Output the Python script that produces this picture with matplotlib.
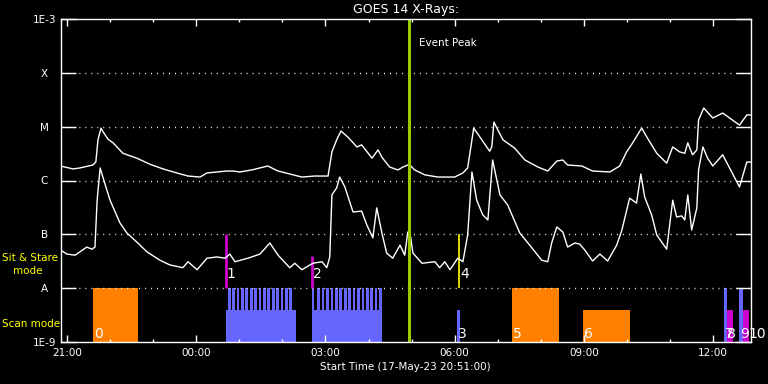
import matplotlib
matplotlib.use('Agg')
import matplotlib.pyplot as plt
from matplotlib.ticker import FixedLocator, NullLocator

# hours after 17-May-23 21:00
t_long = [-0.15, 0.14, 0.30, 0.60, 0.67, 0.72, 0.79, 0.84, 0.95, 1.07, 1.30, 1.62, 1.93, 2.23,
          2.55, 2.81, 3.09, 3.25, 3.48, 3.71, 3.85, 4.01, 4.29, 4.66, 4.90, 5.45, 5.75, 6.06,
          6.15, 6.26, 6.36, 6.52, 6.73, 6.84, 7.08, 7.22, 7.31, 7.49, 7.68, 7.80, 7.91, 7.96,
          8.07, 8.31, 8.61, 9.00, 9.19, 9.30, 9.40, 9.44, 9.63, 9.81, 9.86, 9.91, 10.00, 10.12,
          10.39, 10.63, 10.93, 11.16, 11.37, 11.51, 11.62, 11.95, 12.20, 12.60, 12.83, 12.99,
          13.13, 13.34, 13.46, 13.69, 13.92, 14.06, 14.22, 14.34, 14.41, 14.52, 14.62, 14.66,
          14.78, 14.99, 15.22, 15.61, 15.78, 15.87]
f_long = [1.86e-6, 1.64e-6, 1.71e-6, 1.94e-6, 2.2e-6, 5.7e-6, 9.4e-6, 8.0e-6, 5.9e-6, 5.0e-6,
          3.2e-6, 2.6e-6, 2.0e-6, 1.64e-6, 1.38e-6, 1.21e-6, 1.16e-6, 1.38e-6, 1.44e-6, 1.50e-6,
          1.50e-6, 1.44e-6, 1.57e-6, 1.86e-6, 1.50e-6, 1.16e-6, 1.21e-6, 1.21e-6, 3.4e-6, 5.7e-6,
          8.3e-6, 6.4e-6, 4.2e-6, 4.6e-6, 2.6e-6, 3.7e-6, 2.7e-6, 1.78e-6, 1.57e-6, 1.78e-6,
          1.94e-6, 1.94e-6, 1.57e-6, 1.27e-6, 1.16e-6, 1.16e-6, 1.38e-6, 1.71e-6, 5.7e-6, 9.4e-6,
          5.7e-6, 3.5e-6, 4.2e-6, 1.22e-5, 8.7e-6, 5.7e-6, 4.0e-6, 2.4e-6, 1.78e-6, 1.50e-6,
          2.3e-6, 2.4e-6, 1.94e-6, 1.86e-6, 1.50e-6, 1.44e-6, 1.86e-6, 3.4e-6, 5.0e-6, 9.4e-6,
          6.4e-6, 3.2e-6, 2.1e-6, 4.2e-6, 3.4e-6, 3.2e-6, 5.0e-6, 3.0e-6, 3.7e-6, 1.33e-5,
          2.22e-5, 1.45e-5, 1.79e-5, 1.07e-5, 1.65e-5, 1.65e-5]

t_short = [-0.15, 0.00, 0.19, 0.46, 0.58, 0.65, 0.70, 0.77, 0.84, 1.00, 1.23, 1.39, 1.62, 1.86,
           2.16, 2.39, 2.69, 2.81, 3.02, 3.25, 3.48, 3.67, 3.78, 3.90, 4.20, 4.48, 4.71, 4.90,
           5.17, 5.29, 5.45, 5.71, 5.92, 6.03, 6.10, 6.15, 6.26, 6.33, 6.45, 6.64, 6.84, 6.96,
           7.10, 7.19, 7.31, 7.42, 7.56, 7.73, 7.84, 7.91, 7.96, 8.03, 8.24, 8.54, 8.65, 8.77,
           8.89, 9.07, 9.19, 9.30, 9.40, 9.51, 9.65, 9.77, 9.88, 10.05, 10.23, 10.51, 10.74,
           11.02, 11.16, 11.25, 11.37, 11.51, 11.62, 11.79, 11.90, 12.02, 12.20, 12.37, 12.55,
           12.76, 12.88, 13.06, 13.22, 13.32, 13.41, 13.57, 13.69, 13.92, 14.06, 14.15, 14.27,
           14.34, 14.41, 14.50, 14.62, 14.66, 14.76, 14.87, 14.99, 15.22, 15.61, 15.78, 15.87]
f_short = [5.1e-8, 4.3e-8, 4.1e-8, 5.8e-8, 5.3e-8, 5.8e-8, 4.3e-7, 1.71e-6, 1.11e-6, 4.3e-7,
           1.63e-7, 1.06e-7, 7.2e-8, 4.7e-8, 3.3e-8, 2.7e-8, 2.4e-8, 3.1e-8, 2.2e-8, 3.6e-8,
           3.8e-8, 3.6e-8, 4.3e-8, 3.1e-8, 3.6e-8, 4.3e-8, 6.9e-8, 4.1e-8, 2.4e-8, 2.9e-8,
           2.2e-8, 2.9e-8, 3.1e-8, 2.4e-8, 3.8e-8, 5.4e-7, 7.3e-7, 1.16e-6, 7.6e-7, 2.6e-7,
           2.7e-7, 1.49e-7, 8.6e-8, 3.1e-7, 1.06e-7, 4.5e-8, 3.6e-8, 6.3e-8, 4.1e-8, 1.10e-7,
           1.10e-7, 4.5e-8, 2.9e-8, 3.1e-8, 2.4e-8, 3.1e-8, 2.2e-8, 3.6e-8, 3.1e-8, 9.7e-8,
           1.44e-6, 4.3e-7, 2.3e-7, 1.85e-7, 2.4e-6, 5.4e-7, 3.5e-7, 1.06e-7, 6.3e-8, 3.3e-8,
           3.1e-8, 6.9e-8, 1.37e-7, 1.10e-7, 5.8e-8, 6.9e-8, 6.6e-8, 5.1e-8, 3.2e-8, 4.3e-8,
           3.2e-8, 6.3e-8, 1.20e-7, 4.7e-7, 3.8e-7, 1.32e-6, 4.9e-7, 2.3e-7, 9.7e-8, 5.3e-8,
           4.3e-7, 2.1e-7, 2.2e-7, 1.85e-7, 5.4e-7, 1.20e-7, 3.1e-7, 1.57e-6, 4.2e-6, 2.6e-6,
           1.86e-6, 3.0e-6, 7.6e-7, 2.2e-6, 2.2e-6]

event_peak = 7.93

# observation blocks (start, end in hours, top flux)
orange_start = [0.60, 10.32, 11.97]
orange_end = [1.64, 11.41, 13.06]
orange_top = [1e-8, 1e-8, 3.9e-9]
blue_start = [3.69, 5.68, 9.05, 15.24, 15.61]
blue_end = [5.31, 7.31, 9.12, 15.31, 15.68]
blue_top = [3.9e-9, 3.9e-9, 3.9e-9, 1e-8, 1e-8]
magenta_start = [15.31, 15.68]
magenta_end = [15.47, 15.84]
magenta_top = [3.9e-9, 3.9e-9]
spike_start = [3.74, 3.84, 3.94, 4.04, 4.14, 4.25, 4.35, 4.45, 4.55, 4.65, 4.76, 4.86, 4.96,
               5.06, 5.16,
               5.68, 5.81, 5.91, 6.01, 6.12, 6.22, 6.32, 6.43, 6.53, 6.63, 6.73, 6.84, 6.94,
               7.04, 7.14, 7.25]
spike_width = 0.063
spike_top = 1e-8

# sit & stare markers
sit_time = [3.69, 5.68, 9.10]
sit_top = [1e-7, 4e-8, 1e-7]
sit_color = ['#CC00CC', '#CC00CC', '#FFFF00']

# event numbers
ev_label = ['0', '1', '2', '3', '4', '5', '6', '7', '8', '9', '10']
ev_time = [0.60, 3.69, 5.68, 9.05, 9.10, 10.32, 11.97, 15.24, 15.31, 15.61, 15.80]
ev_upper = [False, True, True, False, True, False, False, False, False, False, False]

levels = [1e-9, 1e-8, 1e-7, 1e-6, 1e-5, 1e-4, 1e-3]
level_names = ['1E-9', 'A', 'B', 'C', 'M', 'X', '1E-3']
hour_ticks = [0, 3, 6, 9, 12, 15]
hour_names = ['21:00', '00:00', '03:00', '06:00', '09:00', '12:00']

fig = plt.figure(figsize=(7.68, 3.84), dpi=100, facecolor='black')
ax = fig.add_axes([60.5/768, 1-342/384, 690.2/768, 323/384])
ax.set_facecolor('black')
ax.set_yscale('log')
ax.set_xlim(-0.15, 15.87)
ax.set_ylim(1e-9, 1e-3)

for s in ax.spines.values():
    s.set_color('white')
    s.set_linewidth(1)

ax.yaxis.set_major_locator(FixedLocator(levels))
ax.yaxis.set_minor_locator(NullLocator())
ax.set_yticklabels(level_names)
ax.tick_params(axis='y', which='major', direction='in', length=10.5, width=1,
               colors='white', left=True, right=True, pad=11.5, labelsize=7.5)
for lab in ax.get_yticklabels():
    lab.set_horizontalalignment('center')

ax.set_xticks(hour_ticks)
ax.set_xticklabels(hour_names)
ax.set_xticks(range(0, 16), minor=True)
ax.tick_params(axis='x', which='major', direction='in', length=5, width=1,
               colors='white', top=True, bottom=True, pad=4, labelsize=7.5)
ax.tick_params(axis='x', which='minor', direction='in', length=2.5, width=1,
               colors='white', top=True, bottom=True)

# dotted level lines
ax.hlines(levels[1:-1], -0.15, 15.87, colors='white', linewidth=1,
          linestyles=(0, (0.7, 3.6)))

ax.set_xlabel('Start Time (17-May-23 20:51:00)', color='white', fontsize=7.5, labelpad=3)
ax.set_title('GOES 14 X-Rays:', color='white', fontsize=9, pad=4)

# observation blocks
for s, e, top in zip(orange_start, orange_end, orange_top):
    ax.bar(s, top - 1e-9, bottom=1e-9, width=e - s, align='edge', color='#FF8000',
           linewidth=0, antialiased=False)
for s, e, top in zip(blue_start, blue_end, blue_top):
    ax.bar(s, top - 1e-9, bottom=1e-9, width=e - s, align='edge', color='#6666FF',
           linewidth=0, antialiased=False)
for s, e, top in zip(magenta_start, magenta_end, magenta_top):
    ax.bar(s, top - 1e-9, bottom=1e-9, width=e - s, align='edge', color='#CC00CC',
           linewidth=0, antialiased=False)
for s in spike_start:
    ax.bar(s, spike_top - 1e-9, bottom=1e-9, width=spike_width, align='edge',
           color='#6666FF', linewidth=0, antialiased=False)

for t, top, c in zip(sit_time, sit_top, sit_color):
    ax.vlines(t, 1e-8, top, colors=c, linewidth=2 if c != '#FFFF00' else 1.2)

# light curves
ax.plot(t_long, f_long, color='white', linewidth=1)
ax.plot(t_short, f_short, color='white', linewidth=1)

ax.axvline(event_peak, color='#99CC00', linewidth=2.2)
ax.text(event_peak + 0.24, 3.6e-4, 'Event Peak', color='white', fontsize=7.5, va='center')

for lab, t, up in zip(ev_label, ev_time, ev_upper):
    ax.text(t + 0.02, 1.55e-8 if up else 1.19e-9, lab, color='white', fontsize=10,
            va='baseline', ha='left', clip_on=False)

fig.text(2/768, 1-258/384, 'Sit & Stare', color='#FFFF00', fontsize=7.5, va='center')
fig.text(13/768, 1-271/384, 'mode', color='#FFFF00', fontsize=7.5, va='center')
fig.text(2/768, 1-324/384, 'Scan mode', color='#FFFF00', fontsize=7.5, va='center')

fig.savefig('out.png', dpi=100, facecolor='black')
